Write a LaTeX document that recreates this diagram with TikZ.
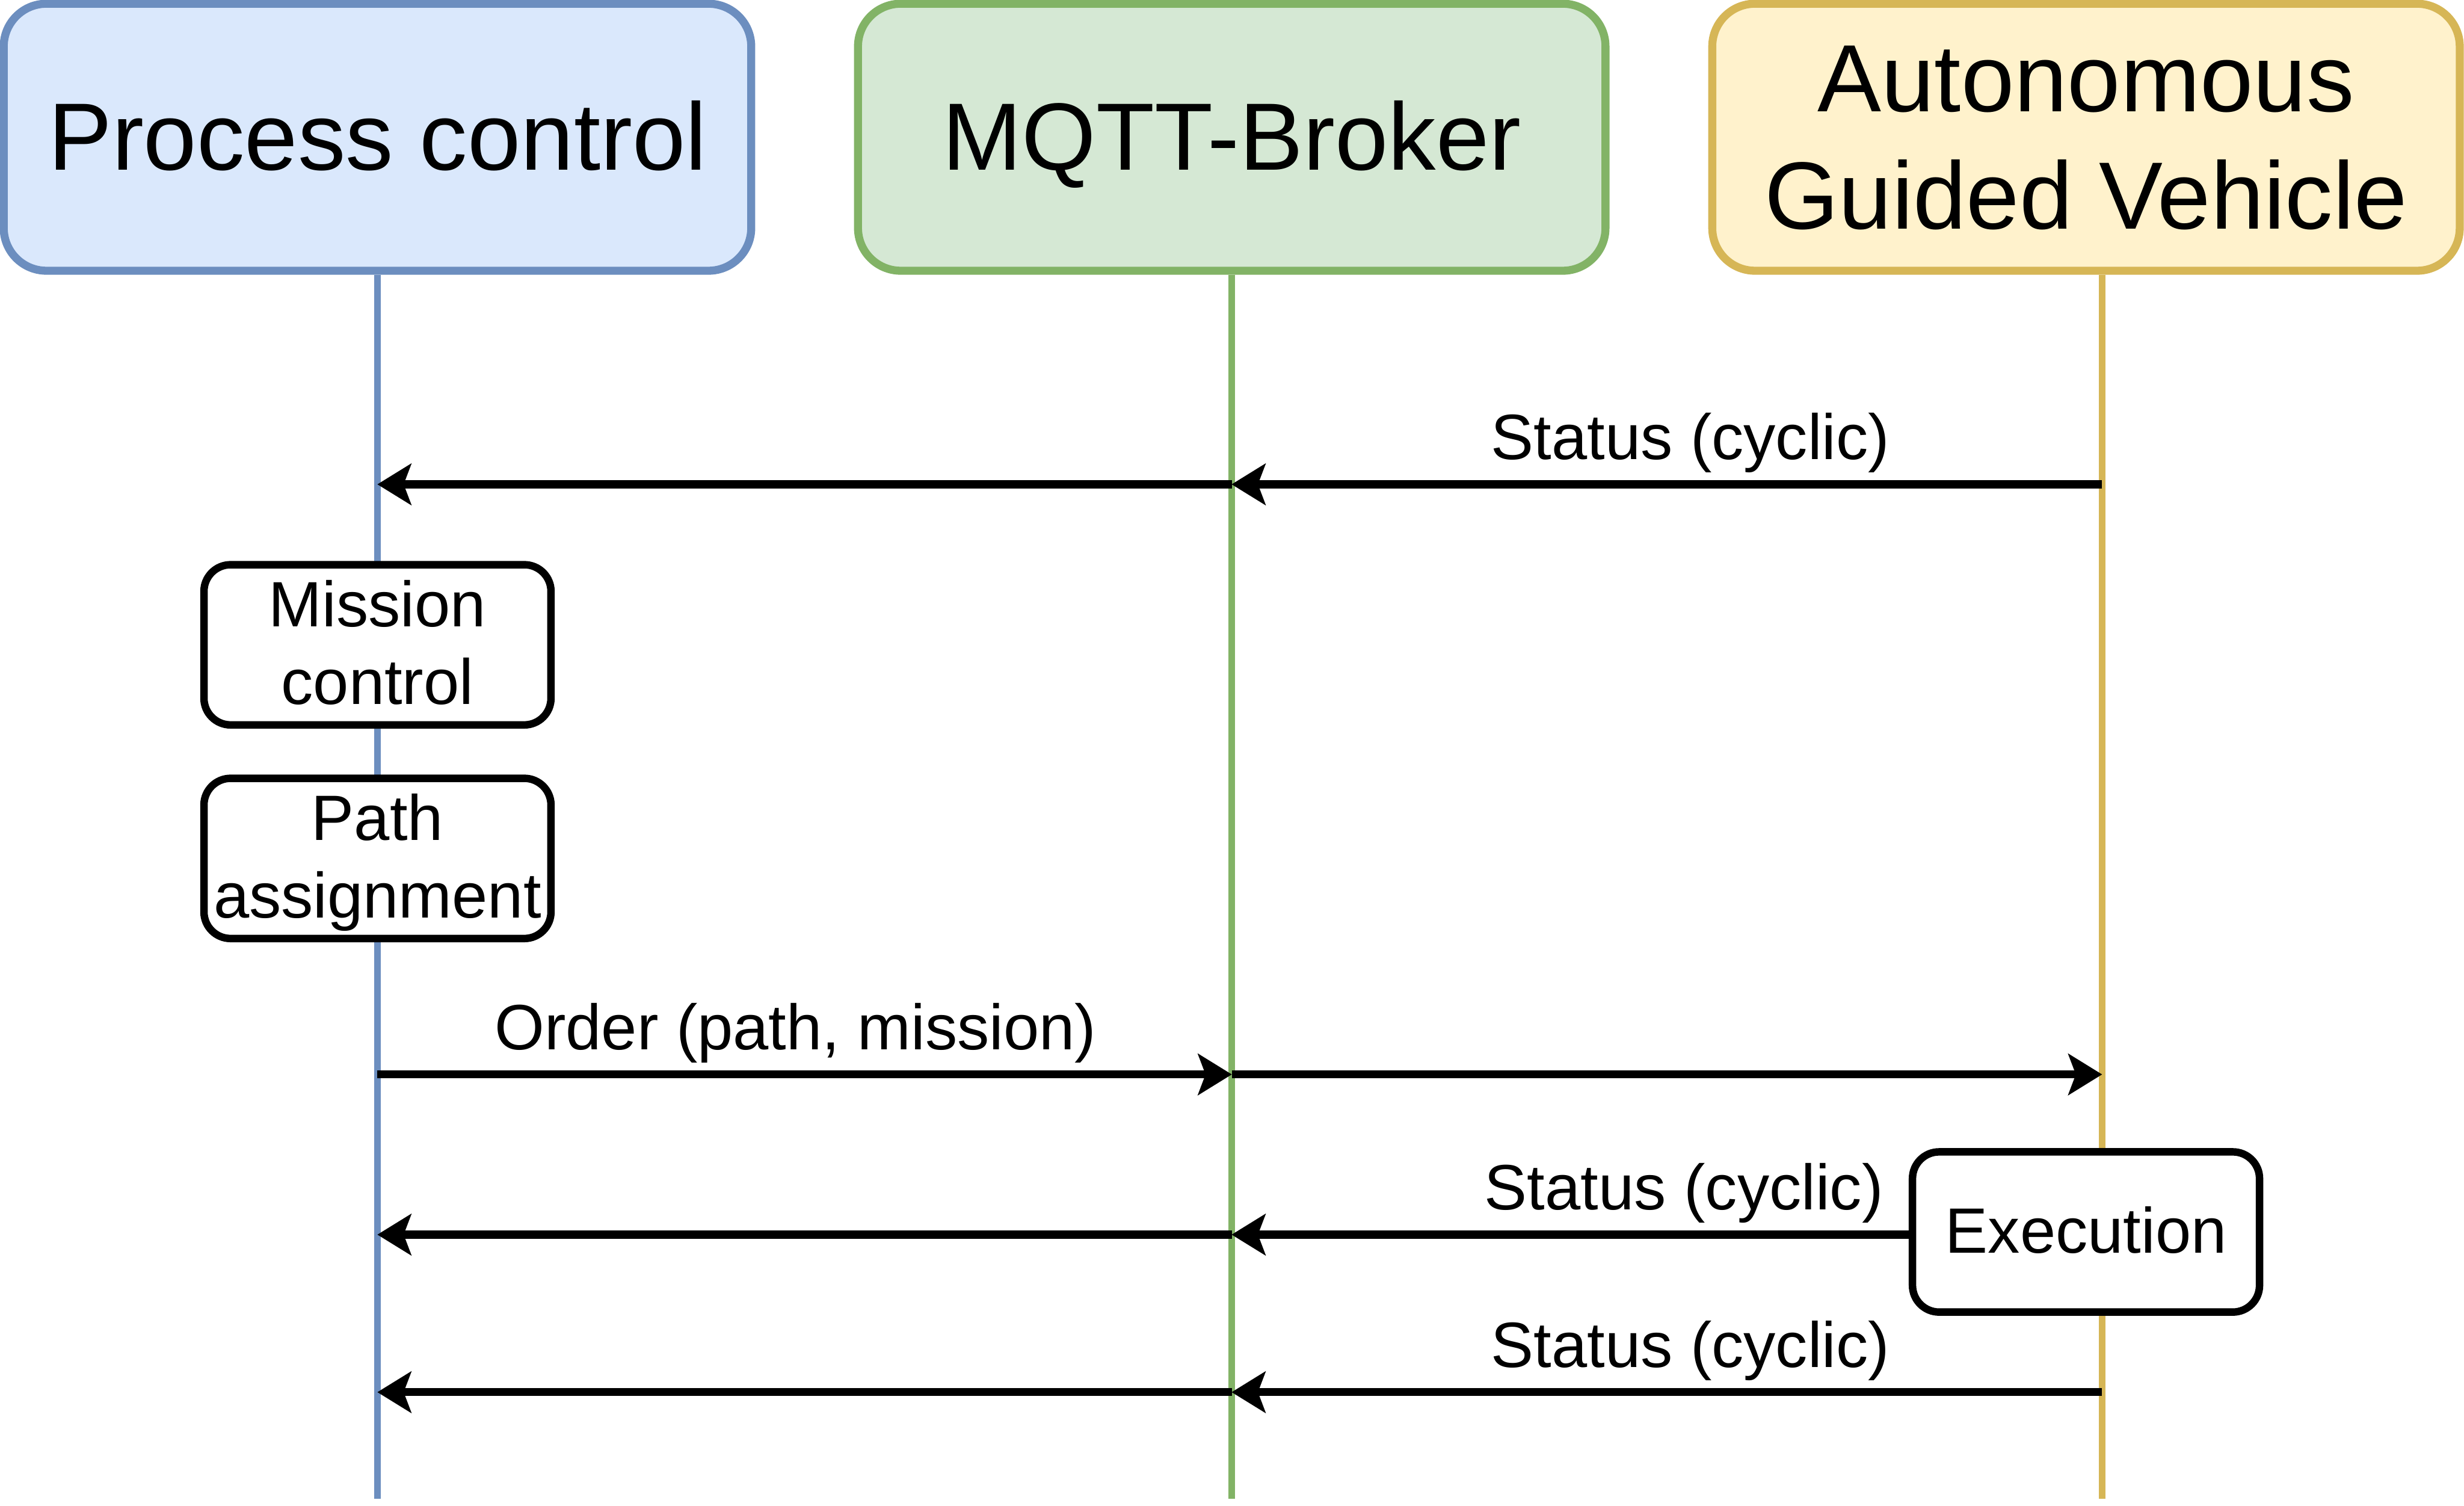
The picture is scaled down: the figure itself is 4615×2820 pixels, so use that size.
\documentclass[tikz,border=0pt]{standalone}
\usepackage{fontspec}
\setmainfont{Liberation Sans}
\usetikzlibrary{arrows.meta}
\definecolor{pcfill}{HTML}{DAE8FC}
\definecolor{pcdraw}{HTML}{6C8EBF}
\definecolor{mqfill}{HTML}{D5E8D4}
\definecolor{mqdraw}{HTML}{82B366}
\definecolor{agfill}{HTML}{FFF2CC}
\definecolor{agdraw}{HTML}{D6B656}
\begin{document}
\begin{tikzpicture}[x=0.2pt,y=-0.2pt,
  header/.style={rectangle, rounded corners=16pt, line width=3pt,
    minimum width=280pt, minimum height=100pt, inner sep=0pt, align=center,
    font=\fontsize{35.8pt}{43.8pt}\selectfont, text height=24.7pt, text depth=0pt},
  actbox/.style={rectangle, rounded corners=10pt, line width=2.8pt, draw=black, fill=white,
    minimum width=130pt, minimum height=60pt, inner sep=0pt, align=center,
    font=\fontsize{24pt}{29pt}\selectfont, text height=15.6pt, text depth=0pt},
  lifeline/.style={line width=2.6pt},
  msg/.style={line width=3pt, -{Stealth[length=12.8pt,width=15.8pt,inset=3pt,line width=0.1pt]}},
  lbl/.style={inner sep=0pt, anchor=base, font=\fontsize{24pt}{29pt}\selectfont}
]
\useasboundingbox (0,0) rectangle (4615,2820);

% headers
\node[header, draw=pcdraw, fill=pcfill] (pc) at (707,257) {Process control};
\node[header, draw=mqdraw, fill=mqfill] (mq) at (2307,257) {MQTT-Broker};
\node[header, draw=agdraw, fill=agfill, text height=68.5pt] (ag) at (3907,257) {Autonomous\\Guided Vehicle};

% lifeline ends
\coordinate (pcbot) at (707,2807);
\coordinate (mqbot) at (2307,2807);
\coordinate (agbot) at (3937,2807);

\draw[lifeline, pcdraw] (pc.south) -- (pcbot);
\draw[lifeline, mqdraw] (mq.south) -- (mqbot);
\draw[lifeline, agdraw] (ag.south -| agbot) -- (agbot);

% activity boxes
\node[actbox, text height=44.6pt] (mission) at (707,1207.5) {Mission\\control};
\node[actbox, text height=44.6pt] (pathas) at (707,1607.5) {Path\\assignment};
\node[actbox] (exec) at (3907,2307) {Execution};

% message levels
\coordinate (y1) at (0,907);
\coordinate (y2) at (0,2012);
\coordinate (y3) at (0,2312);
\coordinate (y4) at (0,2607);

% Status 1
\draw[msg] (agbot |- y1) -- (mqbot |- y1);
\draw[msg] (mqbot |- y1) -- (pcbot |- y1);
\node[lbl] (s1) at (3166,860) {Status (cyclic)};

% Order
\draw[msg] (pcbot |- y2) -- (mqbot |- y2);
\draw[msg] (mqbot |- y2) -- (agbot |- y2);
\node[lbl] (ord) at (1490,1965) {Order (path, mission)};

% Status 2
\draw[msg] (exec.west |- y3) -- (mqbot |- y3);
\draw[msg] (mqbot |- y3) -- (pcbot |- y3);
\node[lbl] (s2) at (3154,2265) {Status (cyclic)};

% Status 3
\draw[msg] (agbot |- y4) -- (mqbot |- y4);
\draw[msg] (mqbot |- y4) -- (pcbot |- y4);
\node[lbl] (s3) at (3166,2560) {Status (cyclic)};
\end{tikzpicture}
\end{document}
